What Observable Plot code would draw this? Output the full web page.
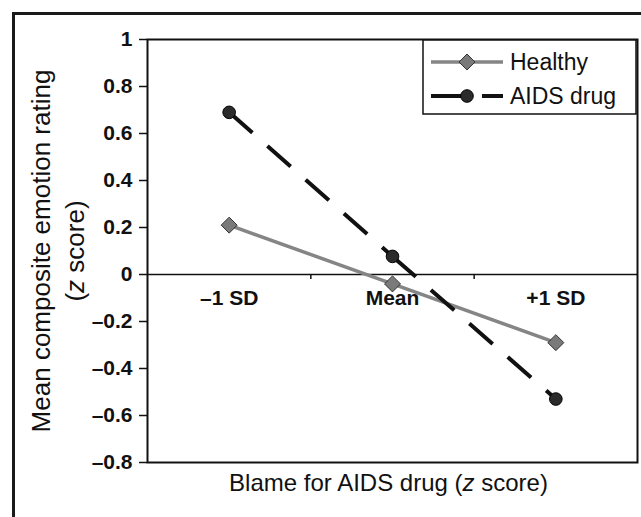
<!DOCTYPE html>
<html>
<head>
<meta charset="utf-8">
<script src="https://cdn.jsdelivr.net/npm/d3@7"></script>
<script src="https://cdn.jsdelivr.net/npm/@observablehq/plot@0.6"></script>
<style>
  html, body { margin: 0; padding: 0; background: #fff; overflow: hidden; width: 641px; height: 517px; }
  #wrap { position: relative; width: 641px; height: 517px; }
  #border { position: absolute; left: 12px; top: 12px; width: 700px; height: 600px;
            border-left: 3px solid #1a1a1a; border-top: 3px solid #1a1a1a; pointer-events: none; }
  #chart { position: absolute; left: 0; top: 0; }
</style>
</head>
<body>
<div id="wrap"><div id="chart"></div><div id="border"></div></div>
<script>
const categories = ["–1 SD", "Mean", "+1 SD"];
const seriesNames = ["Healthy", "AIDS drug"];
const healthy = [0.21, -0.04, -0.29];
const aidsDrug = [0.69, 0.077, -0.53];
const yTicks = [-0.8, -0.6, -0.4, -0.2, 0, 0.2, 0.4, 0.6, 0.8, 1];
const xTitle = "Blame for AIDS drug (z score)";
const yTitle = ["Mean composite emotion rating", "(z score)"];

const FONT = "'Liberation Sans', Arial, Helvetica, sans-serif";
const healthyRows = healthy.map((v, i) => ({x: i + 0.5, y: v}));
const aidsRows = aidsDrug.map((v, i) => ({x: i + 0.5, y: v}));
const aidsSegs = aidsRows.slice(1).map((d, i) => ({x1: aidsRows[i].x, y1: aidsRows[i].y, x2: d.x, y2: d.y}));

const fmt = d => d === 0 ? "0" : d === 1 ? "1" : (d < 0 ? "–" : "") + Math.abs(d).toFixed(1);

const plot = Plot.plot({
  width: 641,
  height: 517,
  marginLeft: 147,
  marginRight: 4,
  marginTop: 39,
  marginBottom: 55,
  style: {fontFamily: FONT, background: "transparent", color: "#111"},
  x: {domain: [0, 3], axis: null},
  y: {domain: [-0.8, 1], axis: null},
  marks: [
    Plot.ruleY([0], {stroke: "#111", strokeWidth: 1.5}),
    Plot.ruleX([1, 2], {y1: 0, y2: 0, insetBottom: -5, stroke: "#111", strokeWidth: 1.5}),
    Plot.axisY({ticks: yTicks, tickSize: 8, tickPadding: 7, tickFormat: fmt,
                fontSize: 21, fontWeight: "bold", label: null, stroke: "#111", strokeWidth: 1.5}),
    Plot.frame({stroke: "#111", strokeWidth: 2}),
    Plot.text(categories, {x: (d, i) => i + 0.5, y: 0, dy: 24, text: d => d,
                fontSize: 21, fontWeight: "bold", fill: "#111"}),
    Plot.line(healthyRows, {x: "x", y: "y", stroke: "#858585", strokeWidth: 3.5}),
    Plot.link(aidsSegs, {x1: "x1", y1: "y1", x2: "x2", y2: "y2", stroke: "#111",
                strokeWidth: 4, strokeDasharray: "31,20"}),
    Plot.dot(healthyRows, {x: "x", y: "y", symbol: "diamond2", r: 7.2, fill: "#7a7a7a",
                stroke: "#333", strokeWidth: 1}),
    Plot.dot(aidsRows, {x: "x", y: "y", r: 6.3, fill: "#2b2b2b", stroke: "#000", strokeWidth: 1}),
    Plot.text([xTitle], {frameAnchor: "bottom", dx: -4, dy: 28, text: d => d,
                fontSize: 24, fill: "#111", textAnchor: "middle"}),
    Plot.text([yTitle[0]], {frameAnchor: "left", dx: -106, rotate: -90, text: d => d,
                fontSize: 26, fill: "#111", textAnchor: "middle"}),
    Plot.text([yTitle[1]], {frameAnchor: "left", dx: -72, rotate: -90, text: d => d,
                fontSize: 26, fill: "#111", textAnchor: "middle"})
  ]
});

// italic "z" in titles
d3.select(plot).selectAll("text").each(function() {
  const t = this.textContent;
  const k = t.indexOf("(z score)");
  if (k < 0 || this.querySelector("tspan")) return;
  const sel = d3.select(this);
  sel.text(null);
  sel.append("tspan").text(t.slice(0, k + 1));
  sel.append("tspan").attr("font-style", "italic").text("z");
  sel.append("tspan").text(t.slice(k + 2));
});

// legend
const svg = d3.select(plot);
const lg = svg.append("g").attr("font-family", FONT).attr("text-anchor", "start");
lg.append("rect").attr("x", 423).attr("y", 40).attr("width", 213).attr("height", 74)
  .attr("fill", "#fff").attr("stroke", "#111").attr("stroke-width", 1.5);
const items = [
  {name: seriesNames[0], stroke: "#858585", w: 3.5, dash: null, sym: "diamond2", fill: "#7a7a7a"},
  {name: seriesNames[1], stroke: "#111", w: 4, dash: "31,20", sym: "circle", fill: "#2b2b2b"}
];
items.forEach((it, i) => {
  const cy = 62 + i * 34;
  lg.append("line").attr("x1", 431).attr("x2", 503).attr("y1", cy).attr("y2", cy)
    .attr("stroke", it.stroke).attr("stroke-width", it.w)
    .attr("stroke-dasharray", it.dash);
  const sym = it.sym === "diamond2" ? d3.symbol(d3.symbolDiamond2, Math.PI * 7.2 * 7.2)
                                     : d3.symbol(d3.symbolCircle, Math.PI * 6.3 * 6.3);
  lg.append("path").attr("d", sym()).attr("transform", `translate(467,${cy})`)
    .attr("fill", it.fill).attr("stroke", i === 0 ? "#333" : "#000").attr("stroke-width", 1);
  lg.append("text").attr("x", 510).attr("y", cy).attr("dy", "0.35em")
    .attr("font-size", 23).attr("fill", "#111").attr("text-anchor", "start").text(it.name);
});

document.getElementById("chart").appendChild(plot);
</script>
</body>
</html>
